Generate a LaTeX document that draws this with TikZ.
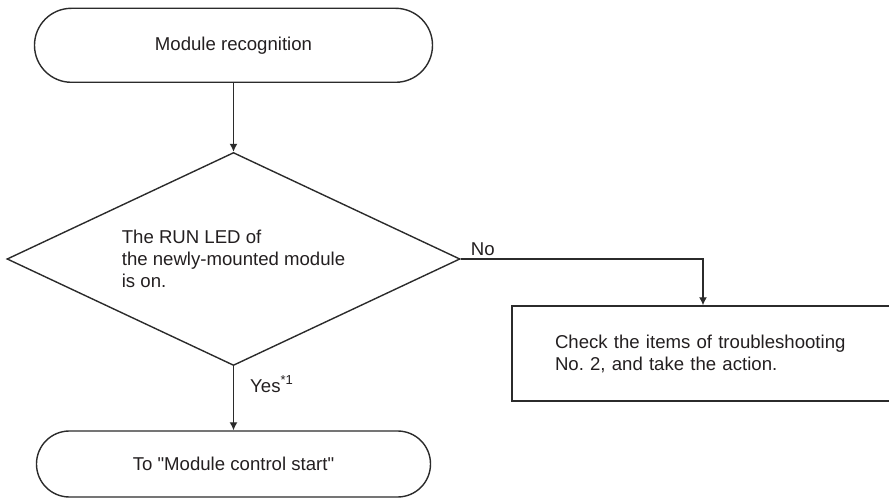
\documentclass[tikz,border=0pt]{standalone}
\usepackage{fontspec}
\setmainfont{Liberation Sans}
\usetikzlibrary{positioning, arrows.meta, shapes.geometric}
\definecolor{ink}{HTML}{231F20}
\definecolor{edge}{HTML}{2B2B2B}
\tikzset{
  every node/.style = {font=\fontsize{18.6}{22}\selectfont\frenchspacing, text=ink},
  fcterm/.style  = {draw=edge, line width=1.4pt, inner sep=0pt, align=center},
  fcdec/.style   = {diamond, draw=edge, line width=1.4pt, inner sep=0pt, aspect=2.1,
                    minimum width=453pt, minimum height=213pt, align=left},
  fcproc/.style  = {draw=edge, line width=1.4pt, inner ysep=0pt, inner xsep=43pt,
                    text width=296pt, minimum height=95pt, align=left},
  fcgo/.style    = {-{Latex[length=8pt,width=8pt]}, draw=edge, line width=1.4pt},
  fclab/.style   = {inner sep=0pt},
}

\begin{document}
\begin{tikzpicture}[x=1pt, y=1pt]
\useasboundingbox (0,0) rectangle (889,498);
\clip (0,0) rectangle (889,498);

\node[fcterm, minimum width=398pt, minimum height=74pt, rounded corners=36.9pt]
  (recog) at (233.5,452.7) {Module recognition};
\node[fcdec] (led) at (233.5,239)
  {The RUN LED of\\the newly-mounted module\\is on.};
\node[fcproc] (check) at (703,144.5)
  {Check the items of troubleshooting\\No. 2, and take the action.};
\node[fcterm, minimum width=394pt, minimum height=66pt, rounded corners=32.9pt]
  (start) at (233.5,34) {To \textquotedbl Module control start\textquotedbl};

\draw[fcgo] (recog.south) -- (led.north);
\draw[fcgo] (led.east) -| (check.north);
\node[fclab, anchor=south west, above right=3pt and 10pt of led.east] (nolab) {No};
\draw[fcgo] (led.south) -- node[fclab, right=16pt, pos=0.28] (yeslab)
  {Yes\raisebox{1pt}{\textsuperscript{*1}}} (start.north);
\end{tikzpicture}
\end{document}
